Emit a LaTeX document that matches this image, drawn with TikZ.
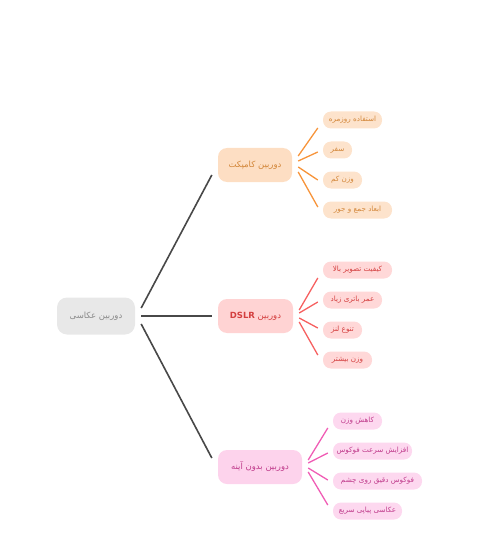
\documentclass[tikz,border=0pt]{standalone}
\usepackage{fontspec}
\newfontfamily\arabicfont[Script=Arabic]{DejaVu Sans}
\TeXXeTstate=1
\usetikzlibrary{calc}
\definecolor{rootfill}{HTML}{E8E8E8}
\definecolor{roottext}{HTML}{8A8A8A}
\definecolor{edgedark}{HTML}{484848}
\definecolor{oFill}{HTML}{FDDEC3}
\definecolor{oLeaf}{HTML}{FDE3CC}
\definecolor{oText}{HTML}{D3873A}
\definecolor{oLine}{HTML}{F7943A}
\definecolor{rFill}{HTML}{FFD3D3}
\definecolor{rLeaf}{HTML}{FFD8D8}
\definecolor{rText}{HTML}{D43F3F}
\definecolor{rLine}{HTML}{F66060}
\definecolor{pFill}{HTML}{FDD3EC}
\definecolor{pLeaf}{HTML}{FDD8EF}
\definecolor{pText}{HTML}{C03C8C}
\definecolor{pLine}{HTML}{F05DB5}
\tikzset{
  rootbox/.style={fill=rootfill, text=roottext, rounded corners=10pt, inner sep=0pt,
    minimum width=78pt, minimum height=37pt, font=\arabicfont\fontsize{8.5}{10}\selectfont},
  branchbox/.style={rounded corners=9pt, inner sep=0pt, minimum height=34pt,
    font=\arabicfont\fontsize{8.5}{10}\selectfont},
  leafbox/.style={rounded corners=8pt, inner sep=0pt, minimum height=17pt,
    font=\arabicfont\fontsize{7.2}{8.5}\selectfont},
  mainedge/.style={draw=edgedark, line width=1.6pt},
  leafedge/.style={line width=1.3pt},
}
\begin{document}
\begin{tikzpicture}[x=1pt,y=-1pt]
\useasboundingbox (0,0) rectangle (500,548);
% root
\node[rootbox] (root) at (96,316) {\beginR دوربین عکاسی\endR};
% branches
\node[branchbox, fill=oFill, text=oText, minimum width=74pt] (b1) at (255,165) {\beginR دوربین کامپکت\endR};
\node[branchbox, fill=rFill, text=rText, minimum width=75pt] (b2) at (255.5,316) {\beginR دوربین \beginL\textbf{DSLR}\endL\endR};
\node[branchbox, fill=pFill, text=pText, minimum width=84pt] (b3) at (260,467) {\beginR دوربین بدون آینه\endR};
% leaves branch 1
\node[leafbox, fill=oLeaf, text=oText, minimum width=59pt] (l11) at (352.5,120) {\beginR استفاده روزمره\endR};
\node[leafbox, fill=oLeaf, text=oText, minimum width=29pt] (l12) at (337.5,150) {\beginR سفر\endR};
\node[leafbox, fill=oLeaf, text=oText, minimum width=39pt] (l13) at (342.5,180) {\beginR وزن کم\endR};
\node[leafbox, fill=oLeaf, text=oText, minimum width=69pt] (l14) at (357.5,210) {\beginR ابعاد جمع و جور\endR};
% leaves branch 2
\node[leafbox, fill=rLeaf, text=rText, minimum width=69pt] (l21) at (357.5,270) {\beginR کیفیت تصویر بالا\endR};
\node[leafbox, fill=rLeaf, text=rText, minimum width=59pt] (l22) at (352.5,300) {\beginR عمر باتری زیاد\endR};
\node[leafbox, fill=rLeaf, text=rText, minimum width=39pt] (l23) at (342.5,330) {\beginR تنوع لنز\endR};
\node[leafbox, fill=rLeaf, text=rText, minimum width=49pt] (l24) at (347.5,360) {\beginR وزن بیشتر\endR};
% leaves branch 3
\node[leafbox, fill=pLeaf, text=pText, minimum width=49pt] (l31) at (357.5,421) {\beginR کاهش وزن\endR};
\node[leafbox, fill=pLeaf, text=pText, minimum width=79pt] (l32) at (372.5,451) {\beginR افزایش سرعت فوکوس\endR};
\node[leafbox, fill=pLeaf, text=pText, minimum width=89pt] (l33) at (377.5,481) {\beginR فوکوس دقیق روی چشم\endR};
\node[leafbox, fill=pLeaf, text=pText, minimum width=69pt] (l34) at (367.5,511) {\beginR عکاسی پیاپی سریع\endR};
% root edges
\draw[mainedge] ($(root.east)+(6,-8)$) -- ($(b1.west)+(-6,10)$);
\draw[mainedge] ($(root.east)+(6,0)$) -- ($(b2.west)+(-6,0)$);
\draw[mainedge] ($(root.east)+(6,8)$) -- ($(b3.west)+(-6,-9)$);
% branch 1 edges
\draw[leafedge, oLine] ($(b1.east)+(6,-9)$) -- ($(l11.west)+(-5,8)$);
\draw[leafedge, oLine] ($(b1.east)+(6,-4)$) -- ($(l12.west)+(-5,2)$);
\draw[leafedge, oLine] ($(b1.east)+(6,2)$) -- ($(l13.west)+(-5,0)$);
\draw[leafedge, oLine] ($(b1.east)+(6,7)$) -- ($(l14.west)+(-5,-3)$);
% branch 2 edges
\draw[leafedge, rLine] ($(b2.east)+(6,-6)$) -- ($(l21.west)+(-5,8)$);
\draw[leafedge, rLine] ($(b2.east)+(6,-3)$) -- ($(l22.west)+(-5,2)$);
\draw[leafedge, rLine] ($(b2.east)+(6,2)$) -- ($(l23.west)+(-5,-2)$);
\draw[leafedge, rLine] ($(b2.east)+(6,6)$) -- ($(l24.west)+(-5,-5)$);
% branch 3 edges
\draw[leafedge, pLine] ($(b3.east)+(6,-7)$) -- ($(l31.west)+(-5,7)$);
\draw[leafedge, pLine] ($(b3.east)+(6,-4)$) -- ($(l32.west)+(-5,2)$);
\draw[leafedge, pLine] ($(b3.east)+(6,1)$) -- ($(l33.west)+(-5,-1)$);
\draw[leafedge, pLine] ($(b3.east)+(6,5)$) -- ($(l34.west)+(-5,-6)$);
\end{tikzpicture}
\end{document}
